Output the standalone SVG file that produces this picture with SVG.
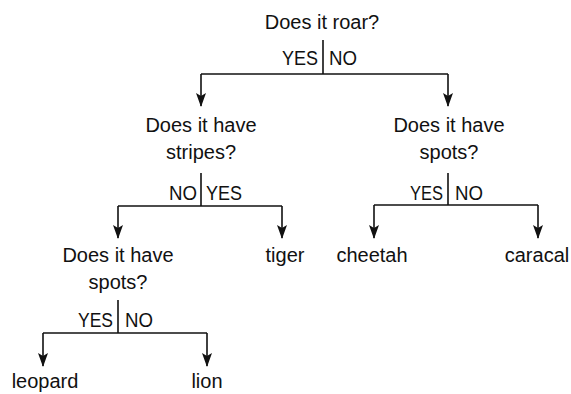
<svg xmlns="http://www.w3.org/2000/svg" width="571" height="394" viewBox="0 0 571 394">
<style>
text{font-family:"Liberation Sans","DejaVu Sans",sans-serif;font-size:20px;fill:#111;text-anchor:middle}
.lbl{font-size:20px}
.l{text-anchor:end}
.r{text-anchor:start}
.c{fill:none;stroke:#111;stroke-width:1.6}
</style>
<defs>
<marker id="ah" viewBox="0 0 14 10" refX="13" refY="5" markerWidth="14" markerHeight="10" markerUnits="userSpaceOnUse" orient="auto">
<path d="M0,0 L14,5 L0,10 L3,5 Z" fill="#111"/>
</marker>
</defs>
<g id="connectors">
<path class="c" d="M323,40 V74"/>
<path class="c" d="M201,74 H448"/>
<path class="c" d="M201,74 V106" marker-end="url(#ah)"/>
<path class="c" d="M448,74 V106" marker-end="url(#ah)"/>
<path class="c" d="M201,173 V206"/>
<path class="c" d="M118,206 H282"/>
<path class="c" d="M118,206 V238" marker-end="url(#ah)"/>
<path class="c" d="M282,206 V238" marker-end="url(#ah)"/>
<path class="c" d="M448,173 V205"/>
<path class="c" d="M374,205 H538"/>
<path class="c" d="M374,205 V238" marker-end="url(#ah)"/>
<path class="c" d="M538,205 V238" marker-end="url(#ah)"/>
<path class="c" d="M118,300 V333"/>
<path class="c" d="M43,333 H207"/>
<path class="c" d="M43,333 V366" marker-end="url(#ah)"/>
<path class="c" d="M207,333 V366" marker-end="url(#ah)"/>
</g>
<g id="n-roar">
<text x="322" y="29">Does it roar?</text>
<text class="lbl l" x="318" y="65" textLength="36" lengthAdjust="spacingAndGlyphs">YES</text>
<text class="lbl r" x="329" y="65" textLength="28" lengthAdjust="spacingAndGlyphs">NO</text>
</g>
<g id="n-stripes">
<text x="201" y="132">Does it have</text>
<text x="201" y="159">stripes?</text>
<text class="lbl l" x="197" y="200" textLength="28" lengthAdjust="spacingAndGlyphs">NO</text>
<text class="lbl r" x="206" y="200" textLength="36" lengthAdjust="spacingAndGlyphs">YES</text>
</g>
<g id="n-spots1">
<text x="449" y="132">Does it have</text>
<text x="449" y="159">spots?</text>
<text class="lbl l" x="443" y="200" textLength="33" lengthAdjust="spacingAndGlyphs">YES</text>
<text class="lbl r" x="455" y="200" textLength="28" lengthAdjust="spacingAndGlyphs">NO</text>
</g>
<g id="n-spots2">
<text x="118" y="262">Does it have</text>
<text x="118" y="289">spots?</text>
<text class="lbl l" x="113" y="327" textLength="35" lengthAdjust="spacingAndGlyphs">YES</text>
<text class="lbl r" x="125" y="327" textLength="28" lengthAdjust="spacingAndGlyphs">NO</text>
</g>
<g id="n-tiger"><text x="285" y="262">tiger</text></g>
<g id="n-cheetah"><text x="372" y="262">cheetah</text></g>
<g id="n-caracal"><text x="537" y="262">caracal</text></g>
<g id="n-leopard"><text x="45" y="388">leopard</text></g>
<g id="n-lion"><text x="207" y="388">lion</text></g>
</svg>
